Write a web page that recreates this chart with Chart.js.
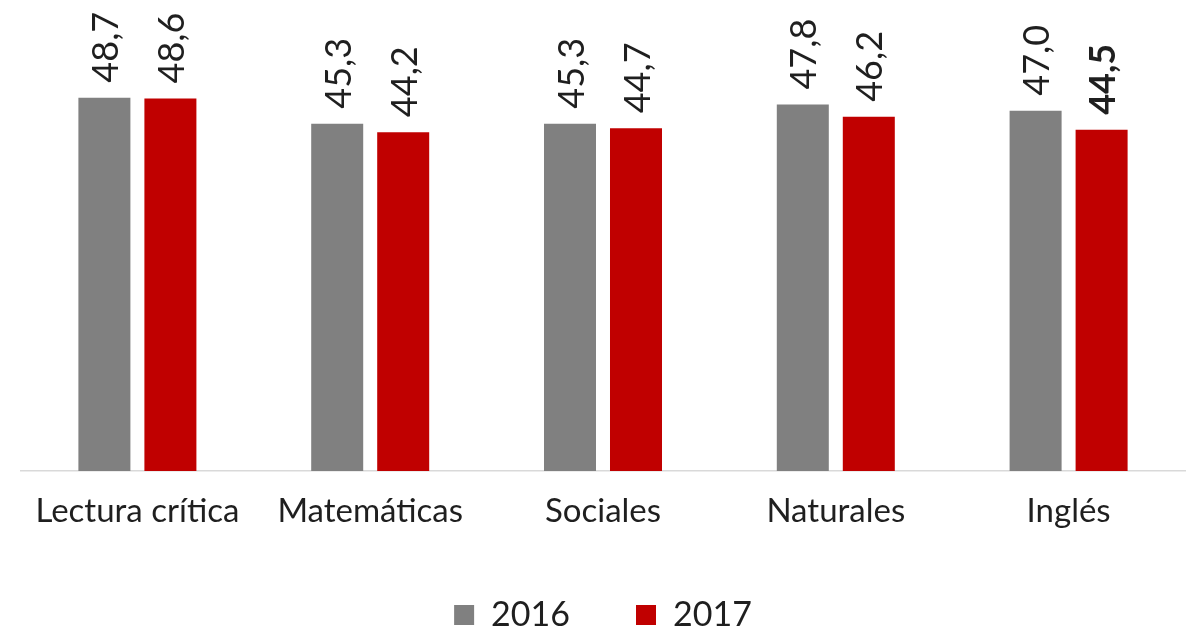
<!DOCTYPE html>
<html>
<head>
<meta charset="utf-8">
<script src="https://cdn.jsdelivr.net/npm/chart.js@4"></script>
<style>
  html, body { margin: 0; padding: 0; background: #fff; }
  #wrap { width: 1191px; height: 642px; }
</style>
</head>
<body>
<div id="wrap"><canvas id="chart"></canvas></div>
<script>
const areas = ['Lectura crítica', 'Matemáticas', 'Sociales', 'Naturales', 'Inglés'];
const values2016 = [48.7, 45.3, 45.3, 47.8, 47.0];
const values2017 = [48.6, 44.2, 44.7, 46.2, 44.5];

// etiquetas verticales encima de cada barra
const barLabels = {
  id: 'barLabels',
  afterDatasetsDraw(chart) {
    const ctx = chart.ctx;
    chart.data.datasets.forEach((ds, di) => {
      chart.getDatasetMeta(di).data.forEach((bar, i) => {
        const bold = di === 1 && i === 4;
        ctx.save();
        ctx.translate(bar.x + 2, bar.y - 15);
        ctx.rotate(-Math.PI / 2);
        ctx.font = (bold ? 'bold ' : '') + '36px Lato';
        ctx.fillStyle = '#1f1f1f';
        ctx.textAlign = 'left';
        ctx.textBaseline = 'middle';
        ctx.fillText(ds.data[i].toFixed(1).replace('.', ','), 0, 0);
        ctx.restore();
      });
    });
  }
};

const chart = new Chart(document.getElementById('chart'), {
  type: 'bar',
  data: {
    labels: areas,
    datasets: [
      { label: '2016', data: values2016, backgroundColor: '#808080' },
      { label: '2017', data: values2017, backgroundColor: '#c00000' }
    ]
  },
  options: {
    responsive: true,
    maintainAspectRatio: false,
    animation: false,
    categoryPercentage: 0.567,
    barPercentage: 0.788,
    layout: { padding: { left: 21, right: 6, top: 11, bottom: 0 } },
    scales: {
      y: { display: false, min: 0, max: 60 },
      x: {
        grid: { display: false },
        border: { color: '#d9d9d9', width: 1.5 },
        ticks: { color: '#1f1f1f', font: { family: 'Lato', size: 33 }, padding: 13 },
        afterFit(scale) { scale.height = 61; }
      }
    },
    plugins: {
      legend: {
        position: 'bottom',
        labels: {
          color: '#1f1f1f',
          font: { family: 'Lato', size: 34 },
          boxWidth: 20,
          boxHeight: 20,
          padding: 66
        }
      },
      tooltip: { enabled: false }
    }
  },
  plugins: [barLabels]
});
</script>
</body>
</html>
